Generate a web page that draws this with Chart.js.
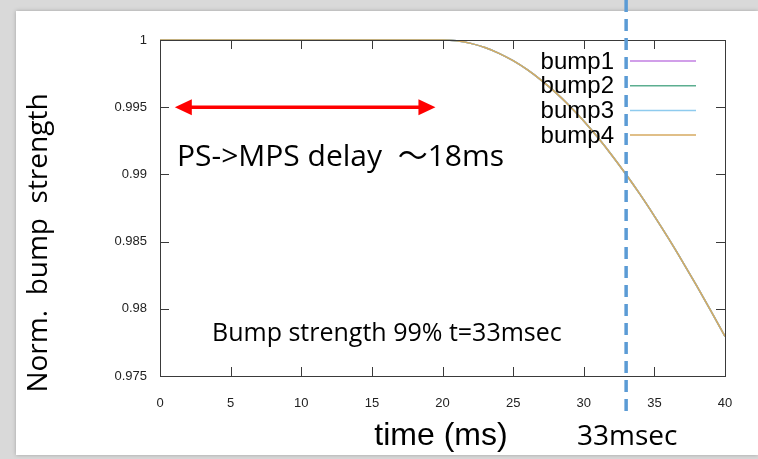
<!DOCTYPE html>
<html>
<head>
<meta charset="utf-8">
<script src="https://cdn.jsdelivr.net/npm/chart.js@4.4.1/dist/chart.umd.min.js"></script>
<style>
  html, body { margin: 0; padding: 0; background: #d9d9d9; }
  #wrap { width: 758px; height: 459px; }
</style>
</head>
<body>
<div id="wrap"><canvas id="bump-chart" width="758" height="459"></canvas></div>
<script>
// Temps (ms) et force normalisée des bumps (les 4 courbes se superposent)
const timeMs = [0, 1, 2, 3, 4, 5, 6, 7, 8, 9, 10, 11, 12, 13, 14, 15, 16, 17, 18, 19, 20,
                21, 22, 23, 24, 25, 26, 27, 28, 29, 30, 31, 32, 33, 34, 35, 36, 37, 38, 39, 40];
const bumpStrength = [1, 1, 1, 1, 1, 1, 1, 1, 1, 1, 1, 1, 1, 1, 1, 1, 1, 1, 1, 1, 1,
                      0.99994, 0.99975, 0.99944, 0.99901, 0.99846, 0.99779, 0.99700, 0.99610, 0.99509, 0.99397,
                      0.99274, 0.99141, 0.98999, 0.98849, 0.98690, 0.98524, 0.98350, 0.98170, 0.97985, 0.97795];
const seriesNames = ['bump1', 'bump2', 'bump3', 'bump4'];
const seriesColors = ['#c27fe2', '#5cae90', '#8ecbee', '#d6aa60'];

const xTicks = [0, 5, 10, 15, 20, 25, 30, 35, 40];
const yTicks = [0.975, 0.98, 0.985, 0.99, 0.995, 1];
const yTickLabels = ['0.975', '0.98', '0.985', '0.99', '0.995', '1'];

// Délai PS->MPS (flèche) et instant t=33ms (ligne pointillée)
const delayStart = 1.05;
const delayEnd = 19.5;
const delayLevel = 0.995;
const markTime = 33;

const jpFont = '"Open Sans", "Noto Sans CJK JP", sans-serif';
const axisFont = '"Liberation Sans", Arial, sans-serif';

// Fond gris + feuille blanche
const sheet = {
    id: 'sheet',
    beforeDraw(chart) {
        const ctx = chart.ctx;
        ctx.save();
        ctx.fillStyle = '#d9d9d9';
        ctx.fillRect(0, 0, chart.width, chart.height);
        ctx.shadowColor = 'rgba(0,0,0,0.25)';
        ctx.shadowBlur = 4;
        ctx.fillStyle = '#ffffff';
        ctx.fillRect(16, 11, chart.width - 16, 444);
        ctx.restore();
    }
};

// Cadre et graduations vers l'intérieur (style gnuplot)
const frame = {
    id: 'frame',
    afterDatasetsDraw(chart) {
        const { ctx, chartArea: a, scales: { x, y } } = chart;
        const len = 9;
        ctx.save();
        ctx.strokeStyle = '#3a3a3a';
        ctx.lineWidth = 1;
        ctx.strokeRect(a.left + 0.5, a.top + 0.5, a.right - a.left, a.bottom - a.top);
        ctx.beginPath();
        xTicks.forEach(v => {
            const px = Math.round(x.getPixelForValue(v)) + 0.5;
            ctx.moveTo(px, a.bottom); ctx.lineTo(px, a.bottom - len);
            ctx.moveTo(px, a.top); ctx.lineTo(px, a.top + len);
        });
        yTicks.forEach(v => {
            const py = Math.round(y.getPixelForValue(v)) + 0.5;
            ctx.moveTo(a.left, py); ctx.lineTo(a.left + len, py);
            ctx.moveTo(a.right, py); ctx.lineTo(a.right - len, py);
        });
        ctx.stroke();
        ctx.restore();
    }
};

// Annotations : flèche, textes, ligne 33ms, légende
const notes = {
    id: 'notes',
    afterDraw(chart) {
        const { ctx, scales: { x, y } } = chart;
        ctx.save();

        // flèche double rouge
        const x1 = x.getPixelForValue(delayStart);
        const x2 = x.getPixelForValue(delayEnd);
        const ay = y.getPixelForValue(delayLevel);
        const head = 17, half = 8;
        ctx.strokeStyle = '#ff0000';
        ctx.fillStyle = '#ff0000';
        ctx.lineWidth = 3.5;
        ctx.beginPath();
        ctx.moveTo(x1 + head - 2, ay); ctx.lineTo(x2 - head + 2, ay);
        ctx.stroke();
        ctx.beginPath();
        ctx.moveTo(x1, ay); ctx.lineTo(x1 + head, ay - half); ctx.lineTo(x1 + head, ay + half);
        ctx.closePath(); ctx.fill();
        ctx.beginPath();
        ctx.moveTo(x2, ay); ctx.lineTo(x2 - head, ay - half); ctx.lineTo(x2 - head, ay + half);
        ctx.closePath(); ctx.fill();

        // textes
        ctx.fillStyle = '#000000';
        ctx.textBaseline = 'alphabetic';
        ctx.textAlign = 'left';
        ctx.font = '30px ' + jpFont;
        ctx.fillText('PS->MPS delay  \uFF5E18ms', 177, 166);
        ctx.font = '25px ' + jpFont;
        ctx.fillText('Bump strength 99% t=33msec', 212, 341);
        ctx.font = '28px ' + jpFont;
        ctx.fillText('33msec', 577, 445);
        ctx.font = '32px ' + axisFont;
        ctx.textAlign = 'center';
        ctx.fillText('time (ms)', 441, 445);

        ctx.save();
        ctx.translate(47, 243);
        ctx.rotate(-Math.PI / 2);
        ctx.font = '28px ' + jpFont;
        ctx.fillText('Norm.  bump  strength', 0, 0);
        ctx.restore();

        // ligne pointillée à t=33ms
        const mx = x.getPixelForValue(markTime);
        ctx.strokeStyle = '#5b9bd5';
        ctx.lineWidth = 3.5;
        ctx.setLineDash([12, 7]);
        ctx.beginPath();
        ctx.moveTo(mx, 0); ctx.lineTo(mx, 418);
        ctx.stroke();
        ctx.setLineDash([]);

        // légende
        ctx.font = '24px ' + axisFont;
        ctx.textAlign = 'right';
        ctx.textBaseline = 'middle';
        seriesNames.forEach((name, i) => {
            const ly = 61 + i * 24.7;
            ctx.fillStyle = '#000000';
            ctx.fillText(name, 614, ly + 1);
            ctx.strokeStyle = seriesColors[i];
            ctx.lineWidth = 1.5;
            ctx.beginPath();
            ctx.moveTo(630, ly); ctx.lineTo(696, ly);
            ctx.stroke();
        });
        ctx.restore();
    }
};

const ctx = document.getElementById('bump-chart');
const chart = new Chart(ctx, {
    type: 'line',
    data: {
        datasets: seriesNames.map((name, i) => ({
            label: name,
            data: timeMs.map((t, k) => ({ x: t, y: bumpStrength[k] })),
            borderColor: seriesColors[i],
            borderWidth: 1.5,
            pointRadius: 0,
            cubicInterpolationMode: 'monotone',
            clip: false,
            // bump4 dessiné en dernier (au-dessus)
            order: seriesNames.length - 1 - i
        }))
    },
    options: {
        responsive: false,
        devicePixelRatio: 1,
        animation: false,
        layout: { padding: { top: 40, right: 33, bottom: 43, left: 0 } },
        plugins: {
            legend: { display: false },
            tooltip: { enabled: false }
        },
        scales: {
            x: {
                type: 'linear',
                min: 0,
                max: 40,
                afterFit: s => { s.height = 40; },
                afterBuildTicks: s => { s.ticks = xTicks.map(v => ({ value: v })); },
                grid: { display: false, drawTicks: false },
                border: { display: false },
                ticks: {
                    padding: 20,
                    color: '#222',
                    font: { family: axisFont, size: 13 },
                    maxRotation: 0,
                    callback: v => String(v)
                }
            },
            y: {
                min: 0.975,
                max: 1,
                afterFit: s => { s.width = 160; },
                afterBuildTicks: s => { s.ticks = yTicks.map(v => ({ value: v })); },
                grid: { display: false, drawTicks: false },
                border: { display: false },
                ticks: {
                    padding: 13,
                    color: '#222',
                    font: { family: axisFont, size: 13 },
                    callback: v => yTickLabels[yTicks.findIndex(t => Math.abs(t - v) < 1e-9)]
                }
            }
        }
    },
    plugins: [sheet, frame, notes]
});
</script>
</body>
</html>
